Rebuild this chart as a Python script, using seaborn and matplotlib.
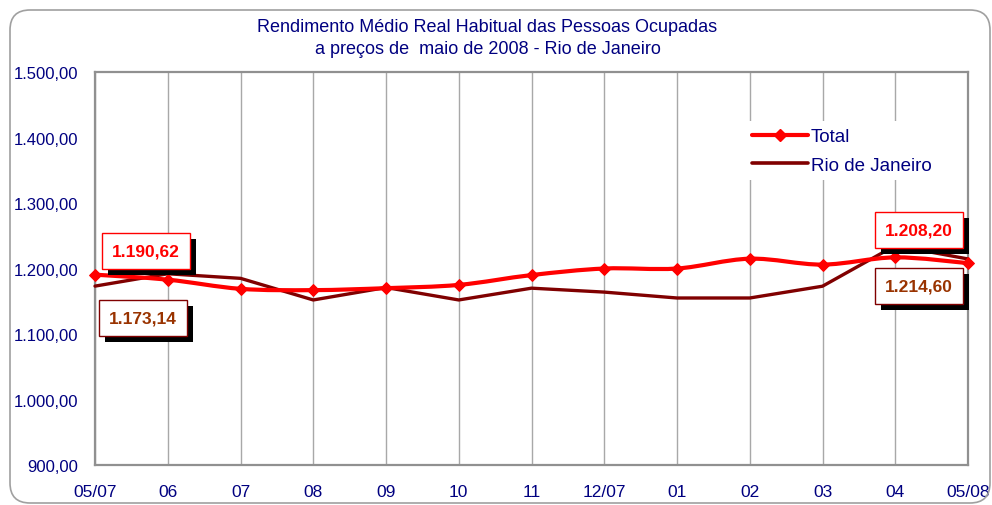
import matplotlib
matplotlib.use("Agg")
import matplotlib.pyplot as plt
import matplotlib.patheffects as pe
import numpy as np
import pandas as pd
import seaborn as sns
from matplotlib.lines import Line2D
from matplotlib.patches import FancyBboxPatch, PathPatch
from matplotlib.path import Path

# values
MONTHS = ["05/07", "06", "07", "08", "09", "10", "11", "12/07", "01", "02", "03", "04", "05/08"]
TOTAL = [1190.62, 1183, 1169, 1167, 1170, 1175, 1190, 1200, 1200, 1215, 1206, 1217, 1208.20]
RIO = [1173.14, 1192, 1185, 1152, 1171, 1152, 1170, 1164, 1155, 1155, 1173, 1235, 1214.60]
Y_TICKS = [900, 1000, 1100, 1200, 1300, 1400, 1500]

NAVY = "#000080"
RED = "#FF0000"
MAROON = "#800000"
BROWN = "#993300"
GRAY = "#909090"


def br_number(v):
    """1234.5 -> '1.234,50'"""
    return f"{v:,.2f}".replace(",", "X").replace(".", ",").replace("X", ".")


def smooth_path(xs, ys):
    """Excel-style smoothed line as cubic Bezier segments through the points."""
    pts = np.column_stack([xs, ys]).astype(float)
    n = len(pts)
    verts, codes = [pts[0]], [Path.MOVETO]
    for i in range(n - 1):
        prev_pt = pts[max(i - 1, 0)]
        next_pt = pts[min(i + 2, n - 1)]
        c1 = pts[i] + (pts[i + 1] - prev_pt) / 6
        c2 = pts[i + 1] - (next_pt - pts[i]) / 6
        verts += [c1, c2, pts[i + 1]]
        codes += [Path.CURVE4] * 3
    return Path(verts, codes)


sns.set_theme(style="white")
plt.rcParams["font.family"] = ["Liberation Sans", "DejaVu Sans"]

df = pd.DataFrame({"pos": np.arange(len(MONTHS)), "Total": TOTAL, "Rio de Janeiro": RIO})

fig = plt.figure(figsize=(9.92, 5.06), dpi=100)
fig.patch.set_facecolor("white")
ax = fig.add_axes([0.0958, 0.079, 0.88, 0.7767])

# outer rounded chart frame
fig.patches.append(FancyBboxPatch((0.10, 0.02), 9.80, 4.93,
                                  boxstyle="round,pad=0,rounding_size=0.2",
                                  transform=fig.dpi_scale_trans, fc="none",
                                  ec="#A0A0A0", lw=1.2, zorder=0))

sns.lineplot(data=df, x="pos", y="Rio de Janeiro", color=MAROON, lw=2.4,
             ax=ax, legend=False, zorder=3, clip_on=False)
ax.add_patch(PathPatch(smooth_path(df["pos"], df["Total"]), fill=False,
                       edgecolor=RED, lw=3.0, zorder=4, clip_on=False))
sns.scatterplot(data=df, x="pos", y="Total", marker="D", s=36, color=RED,
                edgecolor=RED, linewidth=0.8, ax=ax, legend=False, zorder=5, clip_on=False)

ax.set_xlim(0, len(MONTHS) - 1)
ax.set_ylim(Y_TICKS[0], Y_TICKS[-1])
ax.set_xticks(df["pos"], MONTHS)
ax.set_yticks(Y_TICKS, [br_number(v) for v in Y_TICKS])
ax.set_xlabel("")
ax.set_ylabel("")
ax.tick_params(axis="both", which="both", direction="out", length=5, width=1,
               color=GRAY, labelcolor=NAVY, labelsize=12.5)
ax.tick_params(axis="y", pad=7, labelsize=12)
ax.tick_params(axis="x", pad=9)
ax.grid(axis="x", color="#A8A8A8", lw=1)
ax.grid(axis="y", visible=False)
for sp in ax.spines.values():
    sp.set_color(GRAY)
    sp.set_linewidth(1.6)

# title
fig.text(0.4914, 1 - 27 / 506, "Rendimento Médio Real Habitual das Pessoas Ocupadas",
         ha="center", va="center", color=NAVY, fontsize=13)
fig.text(0.4914, 1 - 50 / 506, "a preços de  maio de 2008 - Rio de Janeiro",
         ha="center", va="center", color=NAVY, fontsize=13)

# legend
handles = [Line2D([], [], color=RED, lw=3, marker="D", ms=6),
           Line2D([], [], color=MAROON, lw=2.6)]
leg = fig.legend(handles, ["Total", "Rio de Janeiro"], loc="upper left",
                 bbox_to_anchor=(0.751, 0.758), frameon=True, fontsize=13.5,
                 handlelength=3.0, handletextpad=0.15, labelspacing=0.62,
                 borderpad=0.35, borderaxespad=0)
leg.get_frame().set_facecolor("white")
leg.get_frame().set_edgecolor("none")
leg.get_frame().set_alpha(1)
for t in leg.get_texts():
    t.set_color(NAVY)

# data labels with drop-shadow boxes
labels = [
    (0, TOTAL[0], RED, RED, (51, 24)),
    (0, RIO[0], BROWN, MAROON, (48, -32)),
    (len(MONTHS) - 1, TOTAL[-1], RED, RED, (-49, 33)),
    (len(MONTHS) - 1, RIO[-1], BROWN, MAROON, (-49, -27)),
]
for x, y, tc, ec, off in labels:
    t = ax.annotate(br_number(y), xy=(x, y), xytext=off, textcoords="offset pixels",
                    ha="center", va="center", color=tc, fontsize=12.5, fontweight="bold",
                    zorder=6, annotation_clip=False,
                    bbox=dict(boxstyle="square,pad=0.6", fc="white", ec=ec, lw=1))
    t.get_bbox_patch().set_path_effects([
        pe.SimplePatchShadow(offset=(4.3, -4.3), shadow_rgbFace="black", alpha=1.0),
        pe.Normal(),
    ])

fig.savefig("out.png", dpi=100, facecolor="white")
